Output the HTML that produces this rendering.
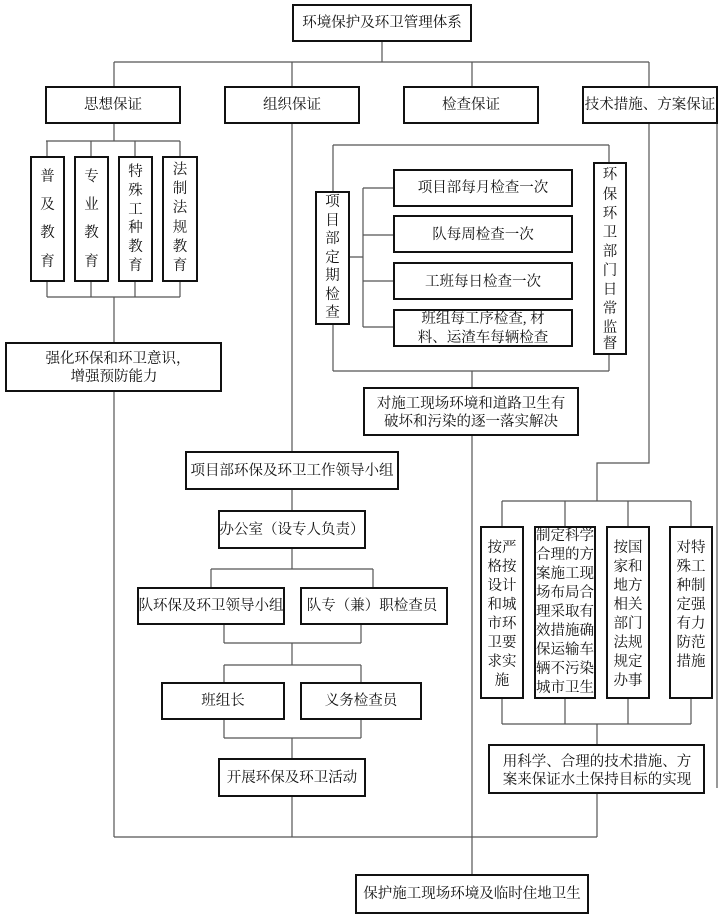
<!DOCTYPE html>
<html><head><meta charset="utf-8"><style>
html,body{margin:0;padding:0;background:#fff;}
svg{display:block;}
text{font-family:"Liberation Serif","Noto Serif CJK SC","Noto Sans CJK SC",serif;font-size:14.5px;fill:#111;dominant-baseline:central;text-anchor:middle;}
.b{fill:#fff;stroke:#111;stroke-width:2;}
.l{stroke:#555;stroke-width:1.2;fill:none;}
</style></head><body>
<svg width="727" height="918" viewBox="0 0 727 918" xmlns="http://www.w3.org/2000/svg">
<!-- lines -->
<g class="l">
<path d="M382 41V62M114 62H649M114 62V87M292 62V87M472 62V87M649 62V87"/>
<path d="M114 123V141M46 141H180M47 141V157M91 141V157M135 141V157M180 141V157"/>
<path d="M47 281V297M91 281V297M135 281V297M180 281V297M47 297H180M114 297V343M114 391V837"/>
<path d="M292 123V452"/>
<path d="M333 145H609M333 145V192M609 145V163M333 324V371M609 354V371M333 371H609"/>
<path d="M349 257H363M363 188V327M363 188H394M363 235H394M363 281H394M363 327H394"/>
<path d="M472 371V388M472 435V875"/>
<path d="M292 489V511M292 548V569M211 569H373M211 569V588M373 569V588"/>
<path d="M224 624V643M361 624V643M224 643H361M292 643V665M224 665H361M224 665V683M361 665V683"/>
<path d="M224 719V738M361 719V738M224 738H361M292 738V759M292 796V837"/>
<path d="M649 123V463H597V501M502 501H691M502 501V527M565 501V527M628 501V527M691 501V527"/>
<path d="M502 698V724M565 698V724M628 698V724M691 698V724M502 724H691M597 724V745M597 793V837"/>
<path d="M114 837H597"/>
<path d="M717 123V788"/>
</g>
<!-- boxes -->
<rect class="b" x="293" y="5" width="178" height="36"/>
<text x="382" y="23">环境保护及环卫管理体系</text>
<rect class="b" x="46" y="87" width="134" height="36"/><text x="113" y="105">思想保证</text>
<rect class="b" x="225" y="87" width="134" height="36"/><text x="292" y="105">组织保证</text>
<rect class="b" x="404" y="87" width="134" height="36"/><text x="471" y="105">检查保证</text>
<rect class="b" x="583" y="87" width="134" height="36"/><text x="650" y="105">技术措施、方案保证</text>

<rect class="b" x="31" y="157" width="33" height="124"/>
<text x="47.5" y="177">普</text><text x="47.5" y="205">及</text><text x="47.5" y="233">教</text><text x="47.5" y="262">育</text>
<rect class="b" x="75" y="157" width="33" height="124"/>
<text x="91.5" y="177">专</text><text x="91.5" y="205">业</text><text x="91.5" y="233">教</text><text x="91.5" y="262">育</text>
<rect class="b" x="119" y="157" width="33" height="124"/>
<text x="135.5" y="172">特</text><text x="135.5" y="191">殊</text><text x="135.5" y="210">工</text><text x="135.5" y="228">种</text><text x="135.5" y="247">教</text><text x="135.5" y="266">育</text>
<rect class="b" x="163" y="157" width="34" height="124"/>
<text x="180" y="170">法</text><text x="180" y="189">制</text><text x="180" y="208">法</text><text x="180" y="228">规</text><text x="180" y="247">教</text><text x="180" y="266">育</text>

<rect class="b" x="6" y="343" width="215" height="48"/>
<text x="118" y="359">强化环保和环卫意识，</text><text x="114" y="377">增强预防能力</text>

<rect class="b" x="316" y="192" width="33" height="132"/>
<text x="332.5" y="202">项</text><text x="332.5" y="221">目</text><text x="332.5" y="239">部</text><text x="332.5" y="258">定</text><text x="332.5" y="276">期</text><text x="332.5" y="295">检</text><text x="332.5" y="313">查</text>
<rect class="b" x="594" y="163" width="32" height="191"/>
<text x="610" y="175">环</text><text x="610" y="195">保</text><text x="610" y="214">环</text><text x="610" y="233">卫</text><text x="610" y="252">部</text><text x="610" y="271">门</text><text x="610" y="290">日</text><text x="610" y="309">常</text><text x="610" y="328">监</text><text x="610" y="344">督</text>

<rect class="b" x="394" y="170" width="178" height="36"/><text x="483" y="188">项目部每月检查一次</text>
<rect class="b" x="394" y="216" width="178" height="36"/><text x="483" y="235">队每周检查一次</text>
<rect class="b" x="394" y="263" width="178" height="36"/><text x="483" y="282">工班每日检查一次</text>
<rect class="b" x="394" y="310" width="178" height="36"/><text x="483" y="319">班组每工序检查, 材</text><text x="483" y="338">料、运渣车每辆检查</text>

<rect class="b" x="364" y="388" width="214" height="47"/>
<text x="471" y="404">对施工现场环境和道路卫生有</text><text x="471" y="422">破坏和污染的逐一落实解决</text>

<rect class="b" x="186" y="452" width="212" height="37"/><text x="292" y="471">项目部环保及环卫工作领导小组</text>
<rect class="b" x="219" y="511" width="146" height="37"/><text x="292" y="530">办公室（设专人负责）</text>
<rect class="b" x="138" y="588" width="146" height="36"/><text x="211" y="606">队环保及环卫领导小组</text>
<rect class="b" x="301" y="588" width="146" height="36"/><text x="372" y="606">队专（兼）职检查员</text>
<rect class="b" x="162" y="683" width="122" height="36"/><text x="223" y="701">班组长</text>
<rect class="b" x="301" y="683" width="120" height="36"/><text x="361" y="701">义务检查员</text>
<rect class="b" x="219" y="759" width="146" height="37"/><text x="292" y="778">开展环保及环卫活动</text>

<rect class="b" x="481" y="527" width="42" height="171"/>
<text x="502" y="548">按严</text><text x="502" y="567">格按</text><text x="502" y="586">设计</text><text x="502" y="605">和城</text><text x="502" y="624">市环</text><text x="502" y="643">卫要</text><text x="502" y="662">求实</text><text x="502" y="681">施</text>
<rect class="b" x="535" y="527" width="60" height="171"/>
<g style="font-size:14px"><text x="565" y="536">制定科学</text><text x="565" y="555">合理的方</text><text x="565" y="574">案施工现</text><text x="565" y="593">场布局合</text><text x="565" y="612">理采取有</text><text x="565" y="631">效措施确</text><text x="565" y="650">保运输车</text><text x="565" y="669">辆不污染</text><text x="565" y="688">城市卫生</text></g>
<rect class="b" x="607" y="527" width="42" height="171"/>
<text x="628" y="548">按国</text><text x="628" y="567">家和</text><text x="628" y="586">地方</text><text x="628" y="605">相关</text><text x="628" y="624">部门</text><text x="628" y="643">法规</text><text x="628" y="662">规定</text><text x="628" y="681">办事</text>
<rect class="b" x="670" y="527" width="42" height="171"/>
<text x="691" y="548">对特</text><text x="691" y="567">殊工</text><text x="691" y="586">种制</text><text x="691" y="605">定强</text><text x="691" y="624">有力</text><text x="691" y="643">防范</text><text x="691" y="662">措施</text>

<rect class="b" x="489" y="745" width="215" height="48"/>
<text x="597" y="762">用科学、合理的技术措施、方</text><text x="597" y="780">案来保证水土保持目标的实现</text>

<rect class="b" x="356" y="875" width="232" height="38"/><text x="472" y="894">保护施工现场环境及临时住地卫生</text>
</svg>
</body></html>
